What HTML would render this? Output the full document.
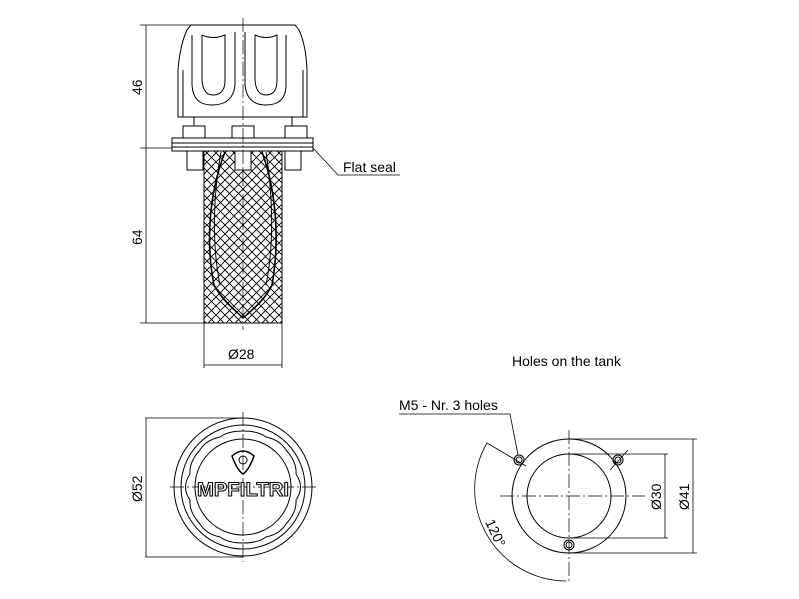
<!DOCTYPE html>
<html><head><style>body{margin:0;background:#fff}svg{display:block}text{font-family:"Liberation Sans",sans-serif;fill:#000}</style></head><body>
<svg width="799" height="599" viewBox="0 0 799 599" xmlns="http://www.w3.org/2000/svg">
<defs>
<pattern id="mesh" width="9" height="9" patternUnits="userSpaceOnUse">
<path d="M0 0L9 9M9 0L0 9" stroke="#000" stroke-width="0.9"/>
</pattern>
</defs>
<g fill="none" stroke="#000" stroke-width="1">
<rect x="204" y="151" width="78" height="172" fill="url(#mesh)"/>
<path d="M225 152 C210 190 205 240 214 285 C222 300 235 310 243 318 C252 310 265 300 272 285 C280 240 276 190 262 152" stroke-width="1.6"/>
<path d="M221 152 C214 190 211 240 220 285 M266 152 C272 190 275 240 266 285" stroke-width="1"/>
<path d="M178 117 L178 70 Q180 45 187 30 L191 25 L295 25 L299 30 Q306 45 307 70 L307 117 Z" fill="#fff"/>
<path d="M183 117 L183 70 M303 117 L303 70"/>
<path d="M192 35 L192 85 Q193 105 212 105 Q233 105 235 85 L235 32 M245 32 L245 85 Q247 105 266 105 Q286 105 286 85 L286 35"/>
<path d="M202 35 L202 80 Q203 95 213 95 Q225 95 225 80 L225 35 Q213 40 202 35 M255 35 L255 80 Q256 95 266 95 Q277 95 277 80 L277 35 Q266 40 255 35"/>
<rect x="183" y="126" width="22" height="12" fill="#fff"/><rect x="232" y="126" width="22" height="12" fill="#fff"/><rect x="285" y="126" width="22" height="12" fill="#fff"/>
<path d="M194 117 L194 126 M292 117 L292 126"/>
<rect x="172" y="138" width="141" height="13" fill="#fff"/>
<path d="M172 143 L313 143 M172 147 L313 147"/>
<rect x="187" y="151" width="16" height="19" fill="#fff"/><rect x="235" y="151" width="16" height="19" fill="#fff"/><rect x="285" y="151" width="16" height="19" fill="#fff"/>
<path d="M243 18 L243 330" stroke-dasharray="14 3 2 3" stroke-width="0.7"/>
<path d="M146 25 L146 323 M140 25 L191 25 M140 148 L172 148 M140 323 L204 323" stroke-width="0.8"/>
<path d="M204 323 L204 368 M282 323 L282 368 M204 365 L282 365" stroke-width="0.8"/>
<path d="M313 148 L338 175 L400 175" stroke-width="0.8"/>
<circle cx="243" cy="487" r="69"/>
<circle cx="243" cy="487" r="62"/>
<path d="M243 431 Q258 431 266 437 Q280 440 286 450 Q297 462 296 474 Q305 487 296 500 Q297 512 286 524 Q280 534 266 537 Q258 543 243 543 Q228 543 220 537 Q206 534 200 524 Q189 512 190 500 Q181 487 190 474 Q189 462 200 450 Q206 440 220 437 Q228 431 243 431Z"/>
<circle cx="243" cy="487" r="48"/>
<path d="M170 487 L316 487 M243 412 L243 562" stroke-dasharray="14 3 2 3" stroke-width="0.7"/>
<path d="M145 418 L243 418 M145 557 L243 557 M146 418 L146 557" stroke-width="0.8"/>
<path d="M232 456 Q243 446 254 456 Q249 470 243 474 Q237 470 232 456Z" stroke-width="1.5"/>
<circle cx="243" cy="460" r="4"/>
<circle cx="569" cy="496" r="57"/>
<circle cx="569" cy="496" r="42"/>
<circle cx="519" cy="460" r="5"/><circle cx="519" cy="460" r="3"/>
<circle cx="618" cy="460" r="5"/><circle cx="618" cy="460" r="3"/>
<circle cx="569" cy="545" r="5"/><circle cx="569" cy="545" r="3"/>
<path d="M500 496 L645 496 M569 430 L569 582" stroke-dasharray="14 3 2 3" stroke-width="0.7"/>
<path d="M569 439 L697 439 M569 454 L668 454 M569 538 L668 538 M569 553 L697 553 M665 454 L665 538 M693 439 L693 553" stroke-width="0.8"/>
<path d="M487 443 L526 466 M610 470 L628 450" stroke-width="0.8"/>
<path d="M487 443 A92 92 0 0 0 566 581" stroke-width="0.8"/>
<path d="M399 414 L510 414 L518 455" stroke-width="0.8"/>
</g>
<g font-size="14">
<text x="0" y="0" transform="translate(142,95) rotate(-90)">46</text>
<text x="0" y="0" transform="translate(142,245) rotate(-90)">64</text>
<text x="228" y="359">Ø28</text>
<text x="343" y="172">Flat seal</text>
<text x="512" y="366">Holes on the tank</text>
<text x="399" y="410">M5 - Nr. 3 holes</text>
<text x="0" y="0" transform="translate(142,502) rotate(-90)">Ø52</text>
<text x="0" y="0" transform="translate(661,510) rotate(-90)">Ø30</text>
<text x="0" y="0" transform="translate(689,510) rotate(-90)">Ø41</text>
<text x="0" y="0" transform="translate(485,522) rotate(65)">120°</text>
</g>
<text x="243" y="496" font-size="19" font-weight="bold" text-anchor="middle" stroke="#000" stroke-width="1" style="fill:#fff" textLength="92" lengthAdjust="spacingAndGlyphs">MPFILTRI</text>
</svg>
</body></html>
